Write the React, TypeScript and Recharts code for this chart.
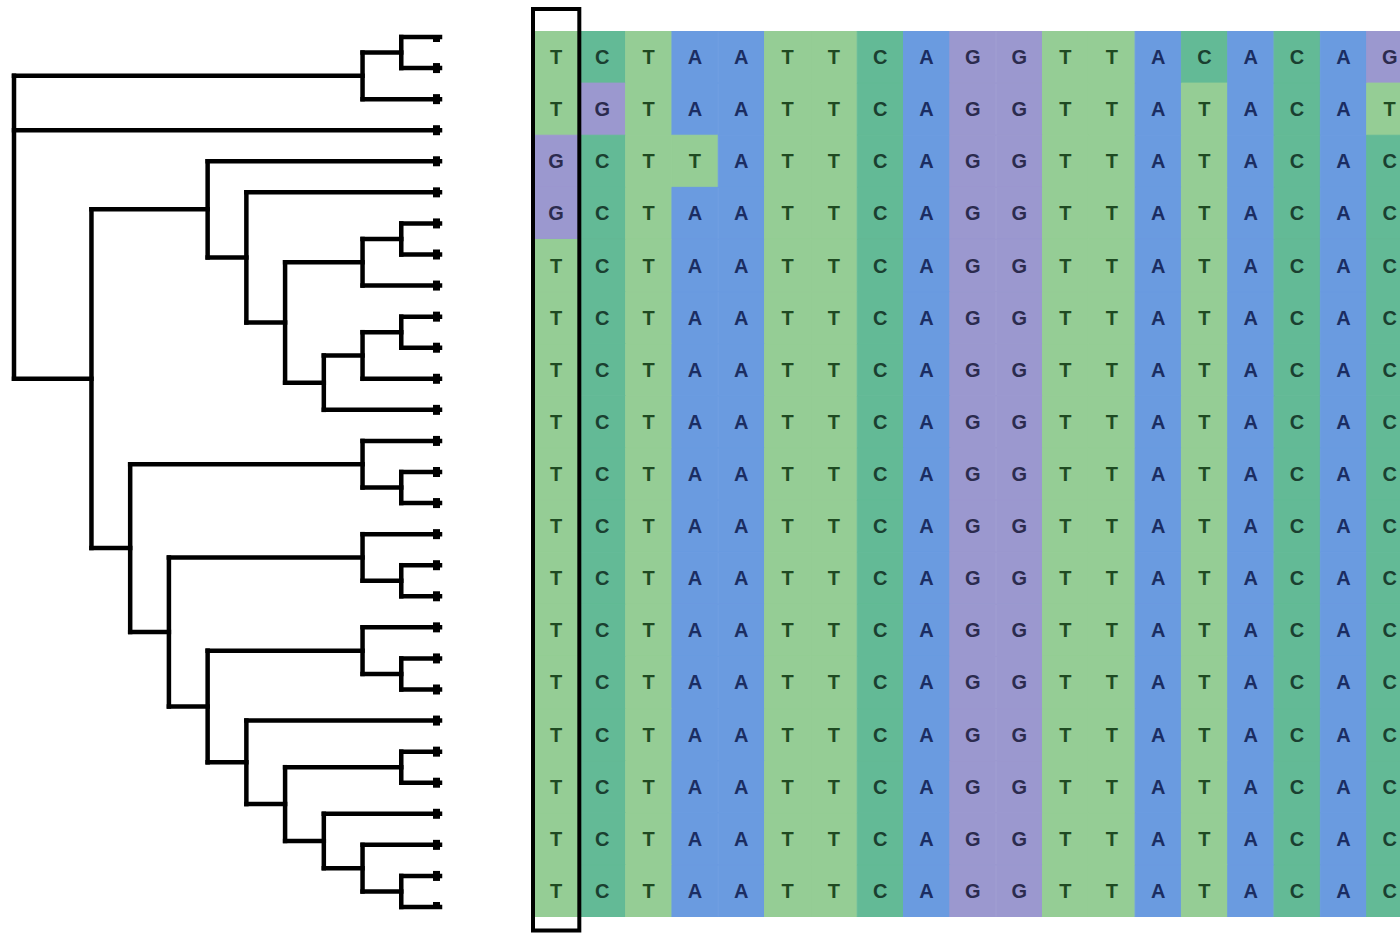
import {
  BarChart,
  Bar,
  Cell,
  LabelList,
  XAxis,
  YAxis,
  ReferenceArea,
  ReferenceLine,
  ComposedChart,
  Scatter,
} from 'recharts';

// tree topology, leaves numbered top to bottom
type TreeNode = number | TreeNode[];
const TREE: TreeNode = [
  [[0, 1], 2],
  3,
  [
    [4, [5, [[[6, 7], 8], [[[9, 10], 11], 12]]]],
    [[13, [14, 15]], [[16, [17, 18]], [[19, [20, 21]], [22, [[23, 24], [25, [26, [27, 28]]]]]]]],
  ],
];
const LEAF_COUNT = 29;
const LEAF_LEVEL = 11;
const ROOT_LEVEL = 0;

// alignment rows, top to bottom
const SEQUENCES = [
  'TCTAATTCAGGTTACACAG',
  'TGTAATTCAGGTTATACAT',
  'GCTTATTCAGGTTATACAC',
  'GCTAATTCAGGTTATACAC',
  'TCTAATTCAGGTTATACAC',
  'TCTAATTCAGGTTATACAC',
  'TCTAATTCAGGTTATACAC',
  'TCTAATTCAGGTTATACAC',
  'TCTAATTCAGGTTATACAC',
  'TCTAATTCAGGTTATACAC',
  'TCTAATTCAGGTTATACAC',
  'TCTAATTCAGGTTATACAC',
  'TCTAATTCAGGTTATACAC',
  'TCTAATTCAGGTTATACAC',
  'TCTAATTCAGGTTATACAC',
  'TCTAATTCAGGTTATACAC',
  'TCTAATTCAGGTTATACAC',
];
const HIGHLIGHT_COLUMN = 0;

const BASE_FILL: Record<string, string> = {
  T: '#95cd95',
  C: '#63ba96',
  A: '#6a9be0',
  G: '#9b98cf',
};
const BASE_TEXT: Record<string, string> = {
  T: '#1f4a22',
  C: '#1a3f30',
  A: '#1b2d62',
  G: '#2b2b4e',
};

type Seg = { x1: number; y1: number; x2: number; y2: number };

function layoutTree(node: TreeNode, segs: Seg[], isRoot: boolean): { level: number; y: number; h: number } {
  if (typeof node === 'number') return { level: LEAF_LEVEL, y: node, h: 0 };
  const kids = node.map((c) => layoutTree(c, segs, false));
  const h = Math.max(...kids.map((k) => k.h)) + 1;
  const level = isRoot ? ROOT_LEVEL : LEAF_LEVEL - h;
  const first = kids[0];
  const last = kids[kids.length - 1];
  segs.push({ x1: level, y1: first.y, x2: level, y2: last.y });
  kids.forEach((k) => segs.push({ x1: level, y1: k.y, x2: k.level, y2: k.y }));
  return { level, y: (first.y + last.y) / 2, h };
}

const treeSegs: Seg[] = [];
layoutTree(TREE, treeSegs, true);
const leafPoints = Array.from({ length: LEAF_COUNT }, (_, i) => ({ level: LEAF_LEVEL, leaf: i }));

const nCols = SEQUENCES[0].length;
const columnTable = Array.from({ length: nCols }, (_, c) => {
  const row: Record<string, number | string> = { col: c };
  SEQUENCES.forEach((s, r) => {
    row['r' + r] = 1;
    row['b' + r] = s[c];
  });
  return row;
});

const LeafSquare = (props: any) => (
  <rect x={props.cx - 7} y={props.cy - 5} width={10.5} height={10} fill="#000" />
);

const baseLabel = (props: any) => {
  const { x, y, width, height, value } = props;
  return (
    <text
      x={x + width / 2}
      y={y + height / 2}
      textAnchor="middle"
      dominantBaseline="central"
      fontFamily="'Liberation Sans', Arial, sans-serif"
      fontWeight="bold"
      fontSize={20}
      fill={BASE_TEXT[value]}
    >
      {value}
    </text>
  );
};

const ALN_MARGIN = { top: 31, left: 13, right: 7, bottom: 16 };

export default function App() {
  return (
    <div
      style={{
        position: 'absolute',
        left: 0,
        top: 0,
        width: 1400,
        height: 933,
        overflow: 'hidden',
        background: '#fff',
      }}
    >
      <div style={{ position: 'absolute', left: 0, top: 0 }}>
        <ComposedChart width={460} height={933} margin={{ top: 37, left: 14, right: 20, bottom: 26 }}>
          <XAxis type="number" dataKey="level" domain={[0, LEAF_LEVEL]} allowDataOverflow hide />
          <YAxis type="number" dataKey="leaf" domain={[0, LEAF_COUNT - 1]} allowDataOverflow reversed hide />
          {treeSegs.map((s, i) => (
            <ReferenceLine
              key={i}
              segment={[
                { x: s.x1, y: s.y1 },
                { x: s.x2, y: s.y2 },
              ]}
              stroke="#000"
              strokeWidth={4.5}
              strokeLinecap="square"
              ifOverflow="visible"
            />
          ))}
          <Scatter data={leafPoints} shape={LeafSquare} isAnimationActive={false} />
        </ComposedChart>
      </div>
      <div style={{ position: 'absolute', left: 520, top: 0 }}>
        <BarChart width={900} height={933} data={columnTable} margin={ALN_MARGIN} barCategoryGap={0} barGap={0}>
          <XAxis type="category" dataKey="col" hide />
          <YAxis type="number" domain={[0, SEQUENCES.length]} allowDataOverflow reversed hide />
          {SEQUENCES.map((seq, r) => (
            <Bar key={r} dataKey={'r' + r} stackId="aln" isAnimationActive={false}>
              {columnTable.map((_, c) => (
                <Cell key={c} fill={BASE_FILL[seq[c]]} stroke={BASE_FILL[seq[c]]} strokeWidth={1} />
              ))}
              <LabelList dataKey={'b' + r} content={baseLabel} />
            </Bar>
          ))}
        </BarChart>
      </div>
      {/* overlay with the same axes so the highlight box sits above the cells */}
      <div style={{ position: 'absolute', left: 520, top: 0 }}>
        <BarChart width={900} height={933} data={columnTable} margin={ALN_MARGIN} barCategoryGap={0} barGap={0}>
          <XAxis type="category" dataKey="col" hide />
          <YAxis type="number" domain={[0, SEQUENCES.length]} allowDataOverflow reversed hide />
          <ReferenceArea
            x1={HIGHLIGHT_COLUMN}
            x2={HIGHLIGHT_COLUMN}
            y1={-0.42}
            y2={SEQUENCES.length + 0.26}
            fill="none"
            fillOpacity={0}
            stroke="#000"
            strokeWidth={4}
            ifOverflow="visible"
          />
        </BarChart>
      </div>
    </div>
  );
}
